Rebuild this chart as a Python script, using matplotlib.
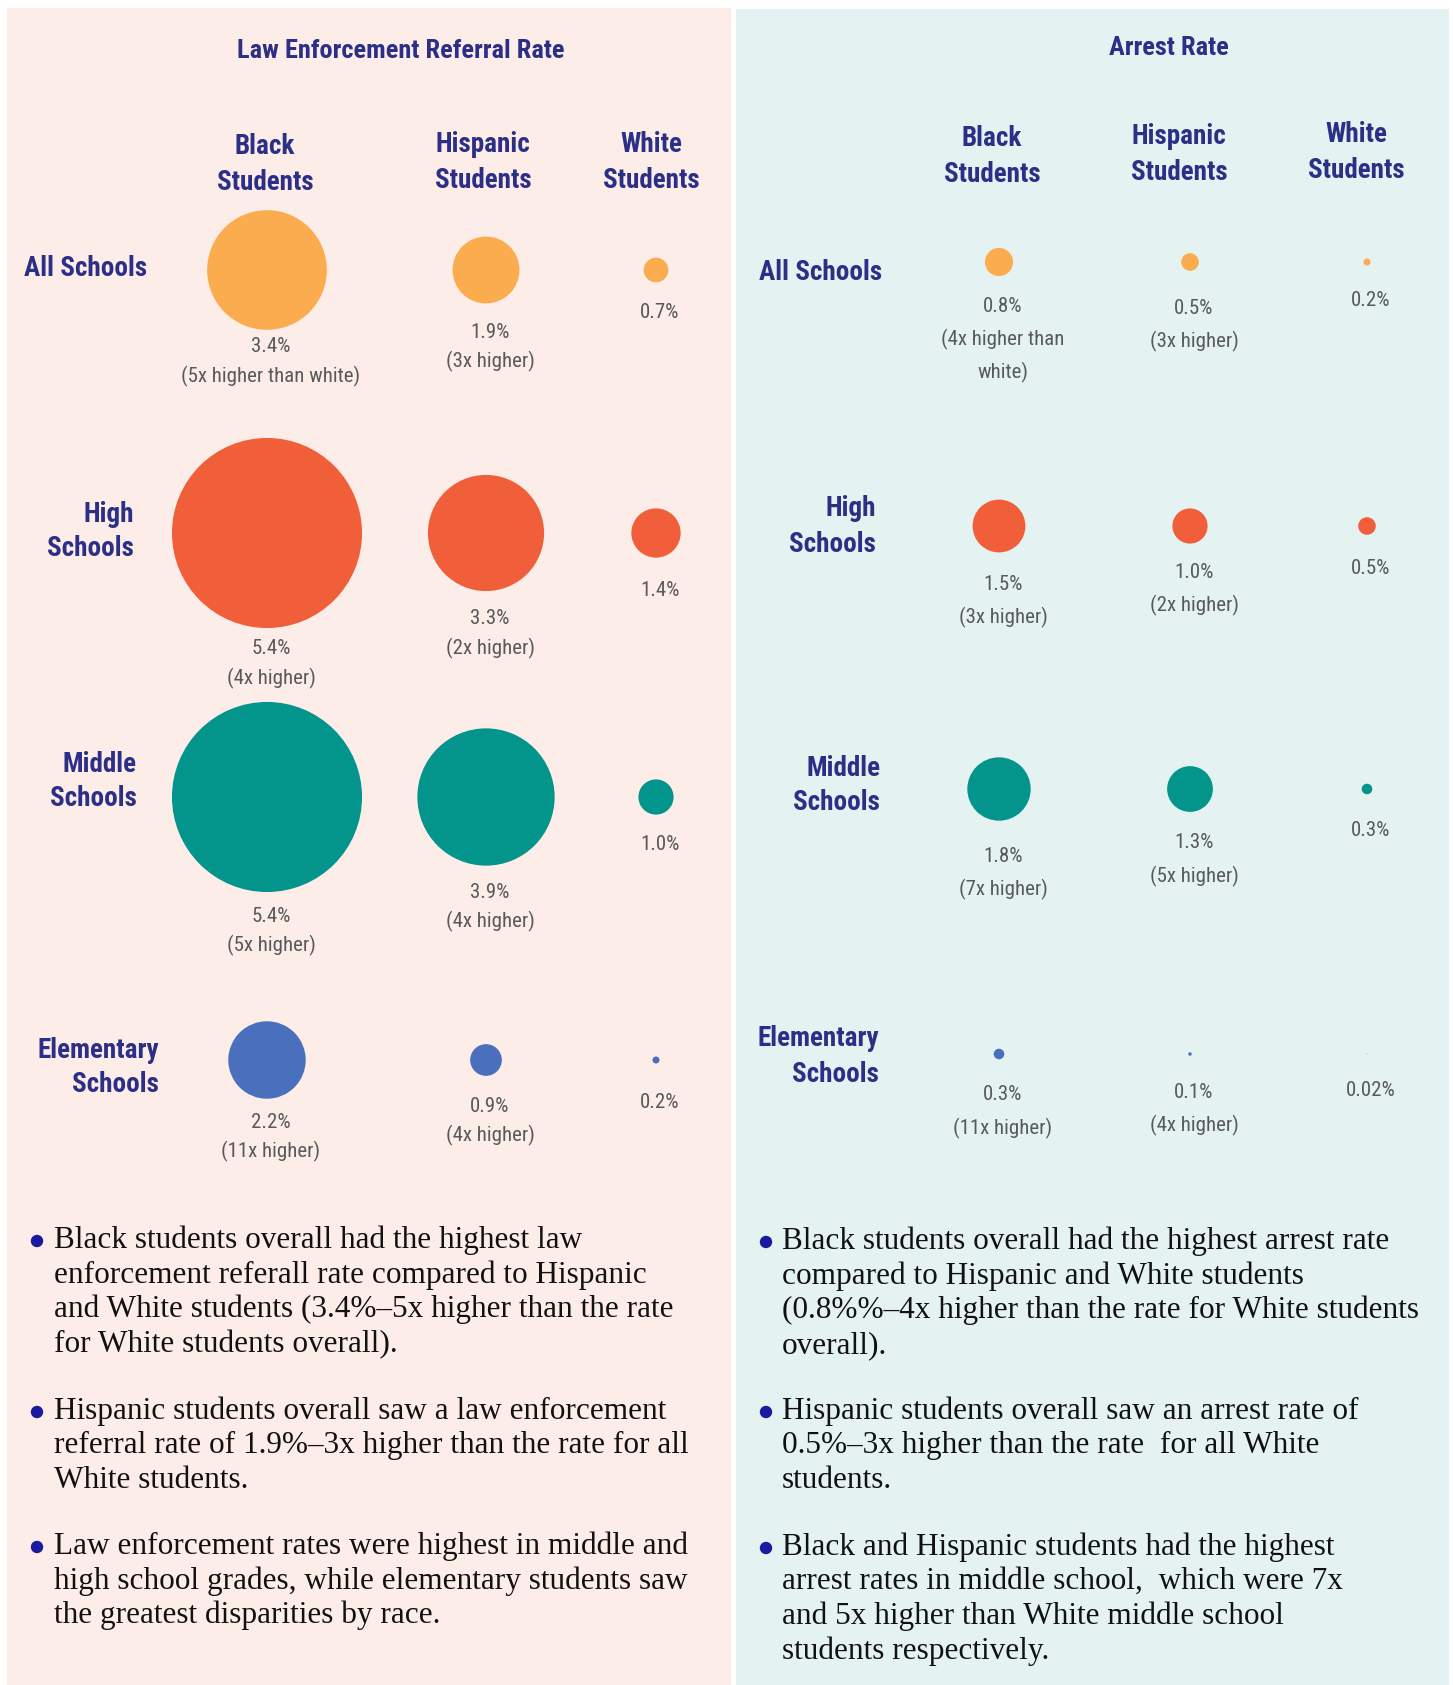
import matplotlib
matplotlib.use('Agg')
import matplotlib.pyplot as plt
from matplotlib.patches import Circle, Rectangle
from matplotlib import font_manager

# ---- data ----
levels_left = ['All Schools', 'High\nSchools', 'Middle\nSchools', 'Elementary\nSchools']
levels_right = ['All Schools', 'High\nSchools', 'Middle\nSchools', 'Elementary\nSchools']
groups = ['Black\nStudents', 'Hispanic\nStudents', 'White\nStudents']

referral_rate = [[3.4, 1.9, 0.7],
                 [5.4, 3.3, 1.4],
                 [5.4, 3.9, 1.0],
                 [2.2, 0.9, 0.2]]
referral_note = [['(5x higher than white)', '(3x higher)', ''],
                 ['(4x higher)', '(2x higher)', ''],
                 ['(5x higher)', '(4x higher)', ''],
                 ['(11x higher)', '(4x higher)', '']]

arrest_rate = [[0.8, 0.5, 0.2],
               [1.5, 1.0, 0.5],
               [1.8, 1.3, 0.3],
               [0.3, 0.1, 0.02]]
arrest_note = [['(4x higher than\nwhite)', '(3x higher)', ''],
               ['(3x higher)', '(2x higher)', ''],
               ['(7x higher)', '(5x higher)', ''],
               ['(11x higher)', '(4x higher)', '']]

referral_bullets = [
    ["Black students overall had the highest law",
     "enforcement referall rate compared to Hispanic",
     "and White students (3.4%\u20135x higher than the rate",
     "for White students overall)."],
    ["Hispanic students overall saw a law enforcement",
     "referral rate of 1.9%\u20133x higher than the rate for all",
     "White students."],
    ["Law enforcement rates were highest in middle and",
     "high school grades, while elementary students saw",
     "the greatest disparities by race."],
]
arrest_bullets = [
    ["Black students overall had the highest arrest rate",
     "compared to Hispanic and White students",
     "(0.8%%\u20134x higher than the rate for White students",
     "overall)."],
    ["Hispanic students overall saw an arrest rate of",
     "0.5%\u20133x higher than the rate  for all White",
     "students."],
    ["Black and Hispanic students had the highest",
     "arrest rates in middle school,  which were 7x",
     "and 5x higher than White middle school",
     "students respectively."],
]

level_colors = ['#FBAC4F', '#F15F3A', '#03948C', '#4A70BD']
navy = '#2B2F86'
gray = '#58595B'

# ---- fonts ----
names = {f.name for f in font_manager.fontManager.ttflist}
cond = next((n for n in ['Roboto Condensed', 'Liberation Sans Narrow', 'Open Sans Condensed']
             if n in names), 'DejaVu Sans')
serif = 'Liberation Serif' if 'Liberation Serif' in names else 'DejaVu Serif'

W, H = 1453, 1685
PX_PER_PCT = 17.6   # circle radius per percentage point

fig = plt.figure(figsize=(W / 100, H / 100), dpi=100)
ax = fig.add_axes([0, 0, 1, 1])
ax.set_xlim(0, W)
ax.set_ylim(H, 0)
ax.axis('off')


def fmt(v):
    return '{:.1f}%'.format(v) if v >= 0.1 else '{:.2f}%'.format(v)


def lines(x, y, txt, step, **kw):
    for i, t in enumerate(txt.split('\n')):
        ax.text(x, y + i * step, t, **kw)


def panel(p, rates, notes, levels, bullets):
    ax.add_patch(Rectangle((p['x0'], p['y0']), p['x1'] - p['x0'], H - p['y0'],
                           facecolor=p['bg'], edgecolor='none', zorder=0))
    ax.text(p['title'][0], p['title'][1], p['name'], ha='center', va='center',
            fontsize=19, fontweight='bold', color=navy, family=cond)
    for j, g in enumerate(groups):
        lines(p['head_x'][j], p['head_y'][j], g, p['head_step'], ha='center', va='center',
              fontsize=19.5, fontweight='bold', color=navy, family=cond)
    for i, lev in enumerate(levels):
        lines(p['lev_x'][i], p['lev_y'][i], lev, 35, ha='right', va='center',
              fontsize=19.5, fontweight='bold', color=navy, family=cond)
        for j in range(3):
            v = rates[i][j]
            cx, cy = p['col_x'][j], p['row_y'][i]
            ax.add_patch(Circle((cx, cy), v * PX_PER_PCT, facecolor=level_colors[i],
                                edgecolor='none', zorder=2))
            txt = fmt(v) + ('\n' + notes[i][j] if notes[i][j] else '')
            lines(cx + 4, cy + p['note_dy'][i][j], txt, p['note_step'], ha='center',
                  va='center', fontsize=15, color=gray, family=cond)
    for b, blines in enumerate(bullets):
        y0 = p['bullet_y'][b]
        ax.add_patch(Circle((p['dot_x'], y0 + 1), 6.2, facecolor='#1A1A9E',
                            edgecolor='none', zorder=3))
        for k, t in enumerate(blines):
            ax.text(p['text_x'], y0 + k * 34.8, t, ha='left', va='center',
                    fontsize=22.5, color='#111111', family=serif)


left = dict(name='Law Enforcement Referral Rate', bg='#FDEDE9', x0=7, x1=731, y0=8,
            title=(401, 51),
            head_x=[265, 483, 651], head_y=[147, 145, 144], head_step=36,
            lev_x=[147, 134, 137, 159], lev_y=[268, 514, 764, 1050],
            col_x=[267, 486, 656], row_y=[270, 533, 797, 1060],
            note_dy=[[77, 62, 43], [116, 86, 57], [119, 95, 48], [62, 46, 42]],
            note_step=29,
            dot_x=37, text_x=54, bullet_y=[1240, 1411, 1546])

right = dict(name='Arrest Rate', bg='#E4F3F2', x0=736, x1=1449, y0=9,
             title=(1169, 48),
             head_x=[992, 1179, 1356], head_y=[138, 136, 135], head_step=36,
             lev_x=[882, 876, 880, 879], lev_y=[273, 509, 768, 1039],
             col_x=[999, 1190, 1367], row_y=[262, 526, 789, 1054],
             note_dy=[[44, 46, 38], [58, 46, 43], [67, 54, 41], [41, 38, 37]],
             note_step=33,
             dot_x=766, text_x=782, bullet_y=[1241, 1411, 1547])

panel(left, referral_rate, referral_note, levels_left, referral_bullets)
panel(right, arrest_rate, arrest_note, levels_right, arrest_bullets)

fig.savefig('out.png', dpi=100, facecolor='white')
